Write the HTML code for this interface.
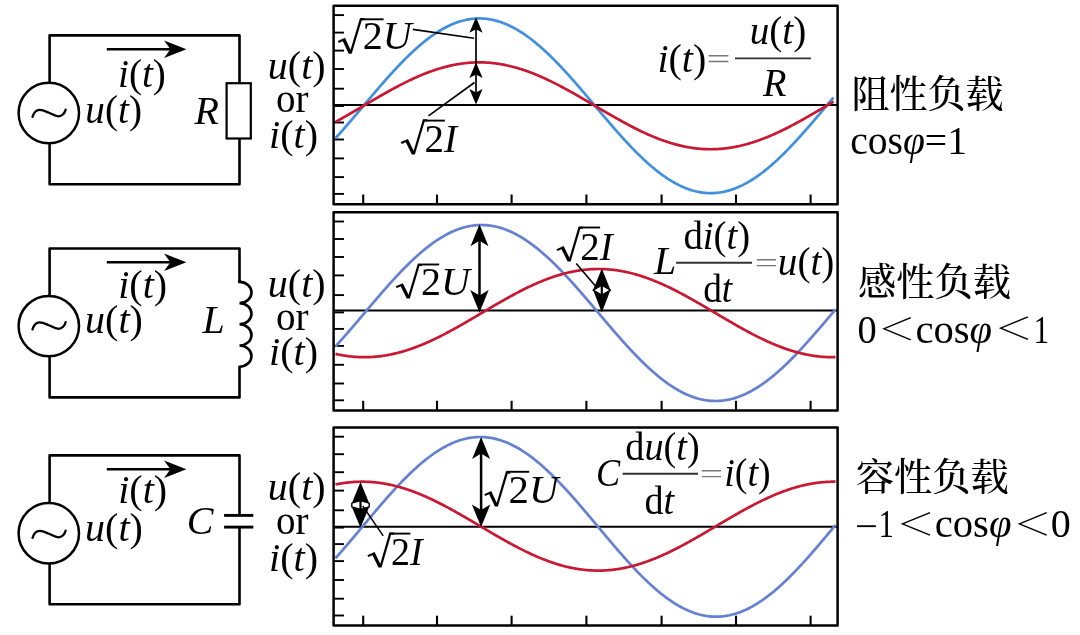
<!DOCTYPE html>
<html lang="zh"><head><meta charset="utf-8"><title>阻性、感性、容性负载</title>
<style>html,body{margin:0;padding:0;background:#fff;}svg{display:block;}</style></head>
<body><svg style="will-change:transform" width="1080" height="635" viewBox="0 0 1080 635">
<rect width="1080" height="635" fill="#fff"/>
<path d="M49.6,35.4 H239.5 V184.2 H49.6 Z" fill="none" stroke="#000" stroke-width="2.6" stroke-linejoin="round"/>
<circle cx="48.8" cy="113.0" r="30.2" fill="#fff" stroke="#000" stroke-width="2.5"/>
<path d="M32.50,116.80 C34.00,112.00 36.00,109.80 39.50,109.80 C43.00,109.80 46.00,111.50 49.00,112.80 C52.00,114.00 55.00,116.30 58.50,116.30 C62.00,116.30 65.00,113.00 65.70,109.60" fill="none" stroke="#000" stroke-width="2.3" stroke-linecap="round"/>
<line x1="106.8" y1="49.2" x2="171.4" y2="49.2" stroke="#000" stroke-width="2.4"/><path d="M186.4,49.2 L164.1,40.5 L170.4,49.2 L164.1,57.900000000000006 Z" fill="#000"/>
<rect x="226.6" y="83.19999999999999" width="24.2" height="55.3" fill="#fff" stroke="#000" stroke-width="2.2"/>
<path d="M49.6,248.5 H239.5 V397.4 H49.6 Z" fill="none" stroke="#000" stroke-width="2.6" stroke-linejoin="round"/>
<circle cx="48.8" cy="326.1" r="30.2" fill="#fff" stroke="#000" stroke-width="2.5"/>
<path d="M32.50,329.30 C34.00,324.50 36.00,322.30 39.50,322.30 C43.00,322.30 46.00,324.00 49.00,325.30 C52.00,326.50 55.00,328.80 58.50,328.80 C62.00,328.80 65.00,325.50 65.70,322.10" fill="none" stroke="#000" stroke-width="2.3" stroke-linecap="round"/>
<line x1="106.8" y1="262.3" x2="171.4" y2="262.3" stroke="#000" stroke-width="2.4"/><path d="M186.4,262.3 L164.1,253.60000000000002 L170.4,262.3 L164.1,271.0 Z" fill="#000"/>
<rect x="237.5" y="282.9" width="4" height="82.8" fill="#fff"/>
<path d="M239.5,279.9 L239.5,281.9 A12,10.6 0 0 1 239.5,303.09999999999997 A12,10.6 0 0 1 239.5,324.29999999999995 A12,10.6 0 0 1 239.5,345.5 A12,10.6 0 0 1 239.5,366.7" fill="none" stroke="#000" stroke-width="2.6"/>
<path d="M49.6,455.4 H239.5 V604.2 H49.6 Z" fill="none" stroke="#000" stroke-width="2.6" stroke-linejoin="round"/>
<circle cx="48.8" cy="533.2" r="30.2" fill="#fff" stroke="#000" stroke-width="2.5"/>
<path d="M32.50,537.80 C34.00,533.00 36.00,530.80 39.50,530.80 C43.00,530.80 46.00,532.50 49.00,533.80 C52.00,535.00 55.00,537.30 58.50,537.30 C62.00,537.30 65.00,534.00 65.70,530.60" fill="none" stroke="#000" stroke-width="2.3" stroke-linecap="round"/>
<line x1="106.8" y1="469.2" x2="171.4" y2="469.2" stroke="#000" stroke-width="2.4"/><path d="M186.4,469.2 L164.1,460.5 L170.4,469.2 L164.1,477.9 Z" fill="#000"/>
<rect x="236.5" y="515.4" width="6" height="11.700000000000045" fill="#fff"/>
<line x1="224.1" y1="515.4" x2="253.3" y2="515.4" stroke="#000" stroke-width="2.9"/>
<line x1="224.1" y1="527.1" x2="253.3" y2="527.1" stroke="#000" stroke-width="2.9"/>
<line x1="333.6" y1="15.10" x2="344" y2="15.10" stroke="#000" stroke-width="1.9"/>
<line x1="333.6" y1="32.60" x2="344" y2="32.60" stroke="#000" stroke-width="1.9"/>
<line x1="333.6" y1="50.60" x2="344" y2="50.60" stroke="#000" stroke-width="1.9"/>
<line x1="333.6" y1="69.00" x2="344" y2="69.00" stroke="#000" stroke-width="1.9"/>
<line x1="333.6" y1="88.70" x2="344" y2="88.70" stroke="#000" stroke-width="1.9"/>
<line x1="333.6" y1="106.00" x2="344" y2="106.00" stroke="#000" stroke-width="1.9"/>
<line x1="333.6" y1="122.50" x2="344" y2="122.50" stroke="#000" stroke-width="1.9"/>
<line x1="333.6" y1="139.50" x2="344" y2="139.50" stroke="#000" stroke-width="1.9"/>
<line x1="333.6" y1="158.40" x2="344" y2="158.40" stroke="#000" stroke-width="1.9"/>
<line x1="333.6" y1="177.10" x2="344" y2="177.10" stroke="#000" stroke-width="1.9"/>
<line x1="333.6" y1="193.90" x2="344" y2="193.90" stroke="#000" stroke-width="1.9"/>
<line x1="363.2" y1="204.3" x2="363.2" y2="194.50" stroke="#000" stroke-width="2.1"/>
<line x1="437.0" y1="204.3" x2="437.0" y2="194.50" stroke="#000" stroke-width="2.1"/>
<line x1="511.6" y1="204.3" x2="511.6" y2="194.50" stroke="#000" stroke-width="2.1"/>
<line x1="586.4" y1="204.3" x2="586.4" y2="194.50" stroke="#000" stroke-width="2.1"/>
<line x1="661.6" y1="204.3" x2="661.6" y2="194.50" stroke="#000" stroke-width="2.1"/>
<line x1="736.0" y1="204.3" x2="736.0" y2="194.50" stroke="#000" stroke-width="2.1"/>
<line x1="810.6" y1="204.3" x2="810.6" y2="194.50" stroke="#000" stroke-width="2.1"/>
<line x1="333.6" y1="104.9" x2="837.6" y2="104.9" stroke="#000" stroke-width="2.0"/>
<path d="M335.5,138.20 L336.5,137.09 L337.5,135.98 L338.5,134.87 L339.5,133.75 L340.5,132.62 L341.5,131.49 L342.5,130.36 L343.5,129.22 L344.5,128.07 L345.5,126.93 L346.5,125.77 L347.5,124.62 L348.5,123.46 L349.5,122.30 L350.5,121.13 L351.5,119.96 L352.5,118.79 L353.5,117.62 L354.5,116.44 L355.5,115.26 L356.5,114.09 L357.5,112.90 L358.5,111.72 L359.5,110.54 L360.5,109.36 L361.5,108.17 L362.5,106.99 L363.5,105.80 L364.5,104.61 L365.5,103.43 L366.5,102.24 L367.5,101.06 L368.5,99.88 L369.5,98.70 L370.5,97.51 L371.5,96.34 L372.5,95.16 L373.5,93.98 L374.5,92.81 L375.5,91.64 L376.5,90.47 L377.5,89.30 L378.5,88.14 L379.5,86.98 L380.5,85.83 L381.5,84.67 L382.5,83.53 L383.5,82.38 L384.5,81.24 L385.5,80.11 L386.5,78.98 L387.5,77.85 L388.5,76.73 L389.5,75.62 L390.5,74.51 L391.5,73.40 L392.5,72.30 L393.5,71.21 L394.5,70.13 L395.5,69.05 L396.5,67.98 L397.5,66.91 L398.5,65.85 L399.5,64.80 L400.5,63.76 L401.5,62.73 L402.5,61.70 L403.5,60.68 L404.5,59.67 L405.5,58.67 L406.5,57.67 L407.5,56.69 L408.5,55.71 L409.5,54.75 L410.5,53.79 L411.5,52.84 L412.5,51.90 L413.5,50.97 L414.5,50.06 L415.5,49.15 L416.5,48.25 L417.5,47.37 L418.5,46.49 L419.5,45.63 L420.5,44.77 L421.5,43.93 L422.5,43.10 L423.5,42.28 L424.5,41.47 L425.5,40.68 L426.5,39.89 L427.5,39.12 L428.5,38.36 L429.5,37.61 L430.5,36.88 L431.5,36.16 L432.5,35.45 L433.5,34.75 L434.5,34.07 L435.5,33.40 L436.5,32.74 L437.5,32.10 L438.5,31.47 L439.5,30.85 L440.5,30.25 L441.5,29.66 L442.5,29.09 L443.5,28.53 L444.5,27.98 L445.5,27.45 L446.5,26.94 L447.5,26.43 L448.5,25.95 L449.5,25.47 L450.5,25.01 L451.5,24.57 L452.5,24.14 L453.5,23.73 L454.5,23.33 L455.5,22.95 L456.5,22.58 L457.5,22.23 L458.5,21.89 L459.5,21.57 L460.5,21.26 L461.5,20.97 L462.5,20.70 L463.5,20.44 L464.5,20.19 L465.5,19.97 L466.5,19.75 L467.5,19.56 L468.5,19.38 L469.5,19.21 L470.5,19.07 L471.5,18.93 L472.5,18.82 L473.5,18.72 L474.5,18.63 L475.5,18.56 L476.5,18.51 L477.5,18.47 L478.5,18.45 L479.5,18.45 L480.5,18.46 L481.5,18.49 L482.5,18.53 L483.5,18.60 L484.5,18.67 L485.5,18.76 L486.5,18.87 L487.5,19.00 L488.5,19.14 L489.5,19.29 L490.5,19.47 L491.5,19.65 L492.5,19.86 L493.5,20.08 L494.5,20.31 L495.5,20.57 L496.5,20.83 L497.5,21.12 L498.5,21.41 L499.5,21.73 L500.5,22.06 L501.5,22.40 L502.5,22.76 L503.5,23.14 L504.5,23.53 L505.5,23.93 L506.5,24.35 L507.5,24.79 L508.5,25.24 L509.5,25.71 L510.5,26.19 L511.5,26.68 L512.5,27.19 L513.5,27.72 L514.5,28.26 L515.5,28.81 L516.5,29.37 L517.5,29.96 L518.5,30.55 L519.5,31.16 L520.5,31.78 L521.5,32.42 L522.5,33.07 L523.5,33.73 L524.5,34.41 L525.5,35.10 L526.5,35.80 L527.5,36.52 L528.5,37.24 L529.5,37.98 L530.5,38.74 L531.5,39.50 L532.5,40.28 L533.5,41.07 L534.5,41.87 L535.5,42.69 L536.5,43.51 L537.5,44.35 L538.5,45.20 L539.5,46.06 L540.5,46.93 L541.5,47.81 L542.5,48.70 L543.5,49.60 L544.5,50.51 L545.5,51.44 L546.5,52.37 L547.5,53.31 L548.5,54.27 L549.5,55.23 L550.5,56.20 L551.5,57.18 L552.5,58.17 L553.5,59.17 L554.5,60.17 L555.5,61.19 L556.5,62.21 L557.5,63.24 L558.5,64.28 L559.5,65.33 L560.5,66.38 L561.5,67.44 L562.5,68.51 L563.5,69.59 L564.5,70.67 L565.5,71.76 L566.5,72.85 L567.5,73.95 L568.5,75.06 L569.5,76.17 L570.5,77.29 L571.5,78.41 L572.5,79.54 L573.5,80.67 L574.5,81.81 L575.5,82.95 L576.5,84.10 L577.5,85.25 L578.5,86.40 L579.5,87.56 L580.5,88.72 L581.5,89.89 L582.5,91.05 L583.5,92.22 L584.5,93.40 L585.5,94.57 L586.5,95.75 L587.5,96.92 L588.5,98.10 L589.5,99.29 L590.5,100.47 L591.5,101.65 L592.5,102.84 L593.5,104.02 L594.5,105.21 L595.5,106.39 L596.5,107.58 L597.5,108.76 L598.5,109.95 L599.5,111.13 L600.5,112.31 L601.5,113.50 L602.5,114.68 L603.5,115.85 L604.5,117.03 L605.5,118.20 L606.5,119.38 L607.5,120.55 L608.5,121.71 L609.5,122.88 L610.5,124.04 L611.5,125.20 L612.5,126.35 L613.5,127.50 L614.5,128.65 L615.5,129.79 L616.5,130.93 L617.5,132.06 L618.5,133.19 L619.5,134.31 L620.5,135.43 L621.5,136.54 L622.5,137.65 L623.5,138.75 L624.5,139.84 L625.5,140.93 L626.5,142.01 L627.5,143.09 L628.5,144.16 L629.5,145.22 L630.5,146.27 L631.5,147.32 L632.5,148.36 L633.5,149.39 L634.5,150.41 L635.5,151.43 L636.5,152.43 L637.5,153.43 L638.5,154.42 L639.5,155.40 L640.5,156.37 L641.5,157.33 L642.5,158.29 L643.5,159.23 L644.5,160.16 L645.5,161.09 L646.5,162.00 L647.5,162.90 L648.5,163.79 L649.5,164.67 L650.5,165.54 L651.5,166.40 L652.5,167.25 L653.5,168.09 L654.5,168.91 L655.5,169.73 L656.5,170.53 L657.5,171.32 L658.5,172.10 L659.5,172.86 L660.5,173.62 L661.5,174.36 L662.5,175.08 L663.5,175.80 L664.5,176.50 L665.5,177.19 L666.5,177.87 L667.5,178.53 L668.5,179.18 L669.5,179.82 L670.5,180.44 L671.5,181.05 L672.5,181.64 L673.5,182.23 L674.5,182.79 L675.5,183.34 L676.5,183.88 L677.5,184.41 L678.5,184.92 L679.5,185.41 L680.5,185.89 L681.5,186.36 L682.5,186.81 L683.5,187.25 L684.5,187.67 L685.5,188.07 L686.5,188.46 L687.5,188.84 L688.5,189.20 L689.5,189.54 L690.5,189.87 L691.5,190.19 L692.5,190.48 L693.5,190.77 L694.5,191.03 L695.5,191.29 L696.5,191.52 L697.5,191.74 L698.5,191.95 L699.5,192.13 L700.5,192.31 L701.5,192.46 L702.5,192.60 L703.5,192.73 L704.5,192.84 L705.5,192.93 L706.5,193.00 L707.5,193.07 L708.5,193.11 L709.5,193.14 L710.5,193.15 L711.5,193.15 L712.5,193.13 L713.5,193.09 L714.5,193.04 L715.5,192.97 L716.5,192.88 L717.5,192.78 L718.5,192.67 L719.5,192.53 L720.5,192.39 L721.5,192.22 L722.5,192.04 L723.5,191.85 L724.5,191.63 L725.5,191.41 L726.5,191.16 L727.5,190.90 L728.5,190.63 L729.5,190.34 L730.5,190.03 L731.5,189.71 L732.5,189.37 L733.5,189.02 L734.5,188.65 L735.5,188.27 L736.5,187.87 L737.5,187.46 L738.5,187.03 L739.5,186.59 L740.5,186.13 L741.5,185.65 L742.5,185.17 L743.5,184.66 L744.5,184.15 L745.5,183.62 L746.5,183.07 L747.5,182.51 L748.5,181.94 L749.5,181.35 L750.5,180.75 L751.5,180.13 L752.5,179.50 L753.5,178.86 L754.5,178.20 L755.5,177.53 L756.5,176.85 L757.5,176.15 L758.5,175.44 L759.5,174.72 L760.5,173.99 L761.5,173.24 L762.5,172.48 L763.5,171.71 L764.5,170.92 L765.5,170.13 L766.5,169.32 L767.5,168.50 L768.5,167.67 L769.5,166.83 L770.5,165.97 L771.5,165.11 L772.5,164.23 L773.5,163.35 L774.5,162.45 L775.5,161.54 L776.5,160.63 L777.5,159.70 L778.5,158.76 L779.5,157.81 L780.5,156.85 L781.5,155.89 L782.5,154.91 L783.5,153.93 L784.5,152.93 L785.5,151.93 L786.5,150.92 L787.5,149.90 L788.5,148.87 L789.5,147.84 L790.5,146.80 L791.5,145.75 L792.5,144.69 L793.5,143.62 L794.5,142.55 L795.5,141.47 L796.5,140.39 L797.5,139.30 L798.5,138.20 L799.5,137.09 L800.5,135.98 L801.5,134.87 L802.5,133.75 L803.5,132.62 L804.5,131.49 L805.5,130.36 L806.5,129.22 L807.5,128.07 L808.5,126.93 L809.5,125.77 L810.5,124.62 L811.5,123.46 L812.5,122.30 L813.5,121.13 L814.5,119.96 L815.5,118.79 L816.5,117.62 L817.5,116.44 L818.5,115.26 L819.5,114.09 L820.5,112.90 L821.5,111.72 L822.5,110.54 L823.5,109.36 L824.5,108.17 L825.5,106.99 L826.5,105.80 L827.5,104.61 L828.5,103.43 L829.5,102.24 L830.5,101.06 L831.5,99.88 L832.5,98.70 L833.5,97.51" fill="none" stroke="#428fe0" stroke-width="2.7"/>
<path d="M335.5,121.92 L336.5,121.37 L337.5,120.81 L338.5,120.26 L339.5,119.70 L340.5,119.14 L341.5,118.58 L342.5,118.02 L343.5,117.45 L344.5,116.88 L345.5,116.31 L346.5,115.74 L347.5,115.16 L348.5,114.58 L349.5,114.01 L350.5,113.43 L351.5,112.84 L352.5,112.26 L353.5,111.68 L354.5,111.09 L355.5,110.51 L356.5,109.92 L357.5,109.33 L358.5,108.75 L359.5,108.16 L360.5,107.57 L361.5,106.98 L362.5,106.39 L363.5,105.80 L364.5,105.21 L365.5,104.62 L366.5,104.03 L367.5,103.44 L368.5,102.85 L369.5,102.27 L370.5,101.68 L371.5,101.09 L372.5,100.51 L373.5,99.92 L374.5,99.34 L375.5,98.76 L376.5,98.17 L377.5,97.59 L378.5,97.02 L379.5,96.44 L380.5,95.86 L381.5,95.29 L382.5,94.72 L383.5,94.15 L384.5,93.58 L385.5,93.02 L386.5,92.46 L387.5,91.90 L388.5,91.34 L389.5,90.79 L390.5,90.23 L391.5,89.68 L392.5,89.14 L393.5,88.60 L394.5,88.06 L395.5,87.52 L396.5,86.99 L397.5,86.46 L398.5,85.93 L399.5,85.41 L400.5,84.89 L401.5,84.37 L402.5,83.86 L403.5,83.36 L404.5,82.85 L405.5,82.35 L406.5,81.86 L407.5,81.37 L408.5,80.88 L409.5,80.40 L410.5,79.93 L411.5,79.46 L412.5,78.99 L413.5,78.53 L414.5,78.07 L415.5,77.62 L416.5,77.17 L417.5,76.73 L418.5,76.30 L419.5,75.87 L420.5,75.44 L421.5,75.02 L422.5,74.61 L423.5,74.20 L424.5,73.80 L425.5,73.41 L426.5,73.02 L427.5,72.63 L428.5,72.25 L429.5,71.88 L430.5,71.52 L431.5,71.16 L432.5,70.80 L433.5,70.46 L434.5,70.12 L435.5,69.79 L436.5,69.46 L437.5,69.14 L438.5,68.83 L439.5,68.52 L440.5,68.22 L441.5,67.93 L442.5,67.64 L443.5,67.36 L444.5,67.09 L445.5,66.83 L446.5,66.57 L447.5,66.32 L448.5,66.08 L449.5,65.84 L450.5,65.62 L451.5,65.39 L452.5,65.18 L453.5,64.98 L454.5,64.78 L455.5,64.59 L456.5,64.40 L457.5,64.23 L458.5,64.06 L459.5,63.90 L460.5,63.75 L461.5,63.60 L462.5,63.47 L463.5,63.34 L464.5,63.22 L465.5,63.10 L466.5,63.00 L467.5,62.90 L468.5,62.81 L469.5,62.73 L470.5,62.66 L471.5,62.59 L472.5,62.53 L473.5,62.48 L474.5,62.44 L475.5,62.41 L476.5,62.38 L477.5,62.36 L478.5,62.35 L479.5,62.35 L480.5,62.36 L481.5,62.37 L482.5,62.39 L483.5,62.42 L484.5,62.46 L485.5,62.51 L486.5,62.56 L487.5,62.62 L488.5,62.69 L489.5,62.77 L490.5,62.86 L491.5,62.95 L492.5,63.05 L493.5,63.16 L494.5,63.28 L495.5,63.40 L496.5,63.54 L497.5,63.68 L498.5,63.82 L499.5,63.98 L500.5,64.14 L501.5,64.32 L502.5,64.49 L503.5,64.68 L504.5,64.88 L505.5,65.08 L506.5,65.29 L507.5,65.50 L508.5,65.73 L509.5,65.96 L510.5,66.20 L511.5,66.45 L512.5,66.70 L513.5,66.96 L514.5,67.23 L515.5,67.50 L516.5,67.78 L517.5,68.07 L518.5,68.37 L519.5,68.67 L520.5,68.98 L521.5,69.30 L522.5,69.62 L523.5,69.95 L524.5,70.29 L525.5,70.63 L526.5,70.98 L527.5,71.34 L528.5,71.70 L529.5,72.07 L530.5,72.44 L531.5,72.82 L532.5,73.21 L533.5,73.60 L534.5,74.00 L535.5,74.41 L536.5,74.82 L537.5,75.23 L538.5,75.65 L539.5,76.08 L540.5,76.52 L541.5,76.95 L542.5,77.40 L543.5,77.85 L544.5,78.30 L545.5,78.76 L546.5,79.22 L547.5,79.69 L548.5,80.17 L549.5,80.64 L550.5,81.13 L551.5,81.61 L552.5,82.11 L553.5,82.60 L554.5,83.10 L555.5,83.61 L556.5,84.12 L557.5,84.63 L558.5,85.15 L559.5,85.67 L560.5,86.19 L561.5,86.72 L562.5,87.25 L563.5,87.79 L564.5,88.33 L565.5,88.87 L566.5,89.41 L567.5,89.96 L568.5,90.51 L569.5,91.06 L570.5,91.62 L571.5,92.18 L572.5,92.74 L573.5,93.30 L574.5,93.87 L575.5,94.44 L576.5,95.01 L577.5,95.58 L578.5,96.15 L579.5,96.73 L580.5,97.31 L581.5,97.88 L582.5,98.46 L583.5,99.05 L584.5,99.63 L585.5,100.21 L586.5,100.80 L587.5,101.39 L588.5,101.97 L589.5,102.56 L590.5,103.15 L591.5,103.74 L592.5,104.33 L593.5,104.92 L594.5,105.51 L595.5,106.09 L596.5,106.68 L597.5,107.27 L598.5,107.86 L599.5,108.45 L600.5,109.04 L601.5,109.63 L602.5,110.21 L603.5,110.80 L604.5,111.39 L605.5,111.97 L606.5,112.55 L607.5,113.14 L608.5,113.72 L609.5,114.29 L610.5,114.87 L611.5,115.45 L612.5,116.02 L613.5,116.59 L614.5,117.16 L615.5,117.73 L616.5,118.30 L617.5,118.86 L618.5,119.42 L619.5,119.98 L620.5,120.54 L621.5,121.09 L622.5,121.64 L623.5,122.19 L624.5,122.73 L625.5,123.27 L626.5,123.81 L627.5,124.35 L628.5,124.88 L629.5,125.41 L630.5,125.93 L631.5,126.45 L632.5,126.97 L633.5,127.48 L634.5,127.99 L635.5,128.50 L636.5,129.00 L637.5,129.49 L638.5,129.99 L639.5,130.47 L640.5,130.96 L641.5,131.43 L642.5,131.91 L643.5,132.38 L644.5,132.84 L645.5,133.30 L646.5,133.75 L647.5,134.20 L648.5,134.65 L649.5,135.08 L650.5,135.52 L651.5,135.95 L652.5,136.37 L653.5,136.78 L654.5,137.19 L655.5,137.60 L656.5,138.00 L657.5,138.39 L658.5,138.78 L659.5,139.16 L660.5,139.53 L661.5,139.90 L662.5,140.26 L663.5,140.62 L664.5,140.97 L665.5,141.31 L666.5,141.65 L667.5,141.98 L668.5,142.30 L669.5,142.62 L670.5,142.93 L671.5,143.23 L672.5,143.53 L673.5,143.82 L674.5,144.10 L675.5,144.37 L676.5,144.64 L677.5,144.90 L678.5,145.15 L679.5,145.40 L680.5,145.64 L681.5,145.87 L682.5,146.10 L683.5,146.31 L684.5,146.52 L685.5,146.72 L686.5,146.92 L687.5,147.11 L688.5,147.28 L689.5,147.46 L690.5,147.62 L691.5,147.78 L692.5,147.92 L693.5,148.06 L694.5,148.20 L695.5,148.32 L696.5,148.44 L697.5,148.55 L698.5,148.65 L699.5,148.74 L700.5,148.83 L701.5,148.91 L702.5,148.98 L703.5,149.04 L704.5,149.09 L705.5,149.14 L706.5,149.18 L707.5,149.21 L708.5,149.23 L709.5,149.24 L710.5,149.25 L711.5,149.25 L712.5,149.24 L713.5,149.22 L714.5,149.19 L715.5,149.16 L716.5,149.12 L717.5,149.07 L718.5,149.01 L719.5,148.94 L720.5,148.87 L721.5,148.79 L722.5,148.70 L723.5,148.60 L724.5,148.50 L725.5,148.38 L726.5,148.26 L727.5,148.13 L728.5,148.00 L729.5,147.85 L730.5,147.70 L731.5,147.54 L732.5,147.37 L733.5,147.20 L734.5,147.01 L735.5,146.82 L736.5,146.62 L737.5,146.42 L738.5,146.21 L739.5,145.98 L740.5,145.76 L741.5,145.52 L742.5,145.28 L743.5,145.03 L744.5,144.77 L745.5,144.51 L746.5,144.24 L747.5,143.96 L748.5,143.67 L749.5,143.38 L750.5,143.08 L751.5,142.77 L752.5,142.46 L753.5,142.14 L754.5,141.81 L755.5,141.48 L756.5,141.14 L757.5,140.80 L758.5,140.44 L759.5,140.08 L760.5,139.72 L761.5,139.35 L762.5,138.97 L763.5,138.58 L764.5,138.19 L765.5,137.80 L766.5,137.40 L767.5,136.99 L768.5,136.58 L769.5,136.16 L770.5,135.73 L771.5,135.30 L772.5,134.87 L773.5,134.43 L774.5,133.98 L775.5,133.53 L776.5,133.07 L777.5,132.61 L778.5,132.14 L779.5,131.67 L780.5,131.20 L781.5,130.72 L782.5,130.23 L783.5,129.74 L784.5,129.25 L785.5,128.75 L786.5,128.24 L787.5,127.74 L788.5,127.23 L789.5,126.71 L790.5,126.19 L791.5,125.67 L792.5,125.14 L793.5,124.61 L794.5,124.08 L795.5,123.54 L796.5,123.00 L797.5,122.46 L798.5,121.92 L799.5,121.37 L800.5,120.81 L801.5,120.26 L802.5,119.70 L803.5,119.14 L804.5,118.58 L805.5,118.02 L806.5,117.45 L807.5,116.88 L808.5,116.31 L809.5,115.74 L810.5,115.16 L811.5,114.58 L812.5,114.01 L813.5,113.43 L814.5,112.84 L815.5,112.26 L816.5,111.68 L817.5,111.09 L818.5,110.51 L819.5,109.92 L820.5,109.33 L821.5,108.75 L822.5,108.16 L823.5,107.57 L824.5,106.98 L825.5,106.39 L826.5,105.80 L827.5,105.21 L828.5,104.62 L829.5,104.03 L830.5,103.44 L831.5,102.85 L832.5,102.27 L833.5,101.68" fill="none" stroke="#c81832" stroke-width="2.7"/>
<rect x="333.6" y="5.8" width="504.0" height="198.5" fill="none" stroke="#000" stroke-width="2.5" stroke-linejoin="round"/>
<line x1="333.6" y1="221.50" x2="344" y2="221.50" stroke="#000" stroke-width="1.9"/>
<line x1="333.6" y1="239.00" x2="344" y2="239.00" stroke="#000" stroke-width="1.9"/>
<line x1="333.6" y1="257.00" x2="344" y2="257.00" stroke="#000" stroke-width="1.9"/>
<line x1="333.6" y1="275.40" x2="344" y2="275.40" stroke="#000" stroke-width="1.9"/>
<line x1="333.6" y1="295.10" x2="344" y2="295.10" stroke="#000" stroke-width="1.9"/>
<line x1="333.6" y1="312.40" x2="344" y2="312.40" stroke="#000" stroke-width="1.9"/>
<line x1="333.6" y1="328.90" x2="344" y2="328.90" stroke="#000" stroke-width="1.9"/>
<line x1="333.6" y1="345.90" x2="344" y2="345.90" stroke="#000" stroke-width="1.9"/>
<line x1="333.6" y1="364.80" x2="344" y2="364.80" stroke="#000" stroke-width="1.9"/>
<line x1="333.6" y1="383.50" x2="344" y2="383.50" stroke="#000" stroke-width="1.9"/>
<line x1="333.6" y1="400.30" x2="344" y2="400.30" stroke="#000" stroke-width="1.9"/>
<line x1="363.2" y1="410.6" x2="363.2" y2="400.80" stroke="#000" stroke-width="2.1"/>
<line x1="437.0" y1="410.6" x2="437.0" y2="400.80" stroke="#000" stroke-width="2.1"/>
<line x1="511.6" y1="410.6" x2="511.6" y2="400.80" stroke="#000" stroke-width="2.1"/>
<line x1="586.4" y1="410.6" x2="586.4" y2="400.80" stroke="#000" stroke-width="2.1"/>
<line x1="661.6" y1="410.6" x2="661.6" y2="400.80" stroke="#000" stroke-width="2.1"/>
<line x1="736.0" y1="410.6" x2="736.0" y2="400.80" stroke="#000" stroke-width="2.1"/>
<line x1="810.6" y1="410.6" x2="810.6" y2="400.80" stroke="#000" stroke-width="2.1"/>
<line x1="333.6" y1="310.5" x2="837.6" y2="310.5" stroke="#000" stroke-width="2.0"/>
<path d="M335.5,346.40 L336.5,345.31 L337.5,344.21 L338.5,343.10 L339.5,341.98 L340.5,340.87 L341.5,339.74 L342.5,338.62 L343.5,337.48 L344.5,336.35 L345.5,335.20 L346.5,334.06 L347.5,332.91 L348.5,331.76 L349.5,330.60 L350.5,329.44 L351.5,328.28 L352.5,327.12 L353.5,325.95 L354.5,324.78 L355.5,323.61 L356.5,322.43 L357.5,321.26 L358.5,320.08 L359.5,318.90 L360.5,317.72 L361.5,316.54 L362.5,315.36 L363.5,314.18 L364.5,313.00 L365.5,311.82 L366.5,310.64 L367.5,309.46 L368.5,308.28 L369.5,307.10 L370.5,305.92 L371.5,304.74 L372.5,303.57 L373.5,302.39 L374.5,301.22 L375.5,300.05 L376.5,298.88 L377.5,297.72 L378.5,296.56 L379.5,295.40 L380.5,294.24 L381.5,293.09 L382.5,291.94 L383.5,290.80 L384.5,289.65 L385.5,288.52 L386.5,287.38 L387.5,286.26 L388.5,285.13 L389.5,284.02 L390.5,282.90 L391.5,281.79 L392.5,280.69 L393.5,279.60 L394.5,278.51 L395.5,277.42 L396.5,276.35 L397.5,275.28 L398.5,274.21 L399.5,273.15 L400.5,272.10 L401.5,271.06 L402.5,270.03 L403.5,269.00 L404.5,267.98 L405.5,266.97 L406.5,265.97 L407.5,264.97 L408.5,263.99 L409.5,263.01 L410.5,262.04 L411.5,261.08 L412.5,260.13 L413.5,259.19 L414.5,258.26 L415.5,257.34 L416.5,256.43 L417.5,255.53 L418.5,254.65 L419.5,253.77 L420.5,252.90 L421.5,252.04 L422.5,251.19 L423.5,250.36 L424.5,249.53 L425.5,248.72 L426.5,247.92 L427.5,247.13 L428.5,246.35 L429.5,245.59 L430.5,244.83 L431.5,244.09 L432.5,243.37 L433.5,242.65 L434.5,241.95 L435.5,241.26 L436.5,240.58 L437.5,239.91 L438.5,239.26 L439.5,238.62 L440.5,238.00 L441.5,237.39 L442.5,236.79 L443.5,236.21 L444.5,235.64 L445.5,235.08 L446.5,234.54 L447.5,234.01 L448.5,233.50 L449.5,233.00 L450.5,232.51 L451.5,232.04 L452.5,231.59 L453.5,231.14 L454.5,230.72 L455.5,230.31 L456.5,229.91 L457.5,229.53 L458.5,229.16 L459.5,228.81 L460.5,228.47 L461.5,228.15 L462.5,227.85 L463.5,227.56 L464.5,227.28 L465.5,227.02 L466.5,226.78 L467.5,226.55 L468.5,226.34 L469.5,226.14 L470.5,225.96 L471.5,225.79 L472.5,225.64 L473.5,225.51 L474.5,225.39 L475.5,225.29 L476.5,225.20 L477.5,225.13 L478.5,225.07 L479.5,225.03 L480.5,225.01 L481.5,225.00 L482.5,225.01 L483.5,225.03 L484.5,225.07 L485.5,225.13 L486.5,225.20 L487.5,225.29 L488.5,225.39 L489.5,225.51 L490.5,225.64 L491.5,225.79 L492.5,225.96 L493.5,226.14 L494.5,226.34 L495.5,226.55 L496.5,226.78 L497.5,227.02 L498.5,227.28 L499.5,227.56 L500.5,227.85 L501.5,228.15 L502.5,228.47 L503.5,228.81 L504.5,229.16 L505.5,229.53 L506.5,229.91 L507.5,230.31 L508.5,230.72 L509.5,231.14 L510.5,231.59 L511.5,232.04 L512.5,232.51 L513.5,233.00 L514.5,233.50 L515.5,234.01 L516.5,234.54 L517.5,235.08 L518.5,235.64 L519.5,236.21 L520.5,236.79 L521.5,237.39 L522.5,238.00 L523.5,238.62 L524.5,239.26 L525.5,239.91 L526.5,240.58 L527.5,241.26 L528.5,241.95 L529.5,242.65 L530.5,243.37 L531.5,244.09 L532.5,244.83 L533.5,245.59 L534.5,246.35 L535.5,247.13 L536.5,247.92 L537.5,248.72 L538.5,249.53 L539.5,250.36 L540.5,251.19 L541.5,252.04 L542.5,252.90 L543.5,253.77 L544.5,254.65 L545.5,255.53 L546.5,256.43 L547.5,257.34 L548.5,258.26 L549.5,259.19 L550.5,260.13 L551.5,261.08 L552.5,262.04 L553.5,263.01 L554.5,263.99 L555.5,264.97 L556.5,265.97 L557.5,266.97 L558.5,267.98 L559.5,269.00 L560.5,270.03 L561.5,271.06 L562.5,272.10 L563.5,273.15 L564.5,274.21 L565.5,275.28 L566.5,276.35 L567.5,277.42 L568.5,278.51 L569.5,279.60 L570.5,280.69 L571.5,281.79 L572.5,282.90 L573.5,284.02 L574.5,285.13 L575.5,286.26 L576.5,287.38 L577.5,288.52 L578.5,289.65 L579.5,290.80 L580.5,291.94 L581.5,293.09 L582.5,294.24 L583.5,295.40 L584.5,296.56 L585.5,297.72 L586.5,298.88 L587.5,300.05 L588.5,301.22 L589.5,302.39 L590.5,303.57 L591.5,304.74 L592.5,305.92 L593.5,307.10 L594.5,308.28 L595.5,309.46 L596.5,310.64 L597.5,311.82 L598.5,313.00 L599.5,314.18 L600.5,315.36 L601.5,316.54 L602.5,317.72 L603.5,318.90 L604.5,320.08 L605.5,321.26 L606.5,322.43 L607.5,323.61 L608.5,324.78 L609.5,325.95 L610.5,327.12 L611.5,328.28 L612.5,329.44 L613.5,330.60 L614.5,331.76 L615.5,332.91 L616.5,334.06 L617.5,335.20 L618.5,336.35 L619.5,337.48 L620.5,338.62 L621.5,339.74 L622.5,340.87 L623.5,341.98 L624.5,343.10 L625.5,344.21 L626.5,345.31 L627.5,346.40 L628.5,347.49 L629.5,348.58 L630.5,349.65 L631.5,350.72 L632.5,351.79 L633.5,352.85 L634.5,353.90 L635.5,354.94 L636.5,355.97 L637.5,357.00 L638.5,358.02 L639.5,359.03 L640.5,360.03 L641.5,361.03 L642.5,362.01 L643.5,362.99 L644.5,363.96 L645.5,364.92 L646.5,365.87 L647.5,366.81 L648.5,367.74 L649.5,368.66 L650.5,369.57 L651.5,370.47 L652.5,371.35 L653.5,372.23 L654.5,373.10 L655.5,373.96 L656.5,374.81 L657.5,375.64 L658.5,376.47 L659.5,377.28 L660.5,378.08 L661.5,378.87 L662.5,379.65 L663.5,380.41 L664.5,381.17 L665.5,381.91 L666.5,382.63 L667.5,383.35 L668.5,384.05 L669.5,384.74 L670.5,385.42 L671.5,386.09 L672.5,386.74 L673.5,387.38 L674.5,388.00 L675.5,388.61 L676.5,389.21 L677.5,389.79 L678.5,390.36 L679.5,390.92 L680.5,391.46 L681.5,391.99 L682.5,392.50 L683.5,393.00 L684.5,393.49 L685.5,393.96 L686.5,394.41 L687.5,394.86 L688.5,395.28 L689.5,395.69 L690.5,396.09 L691.5,396.47 L692.5,396.84 L693.5,397.19 L694.5,397.53 L695.5,397.85 L696.5,398.15 L697.5,398.44 L698.5,398.72 L699.5,398.98 L700.5,399.22 L701.5,399.45 L702.5,399.66 L703.5,399.86 L704.5,400.04 L705.5,400.21 L706.5,400.36 L707.5,400.49 L708.5,400.61 L709.5,400.71 L710.5,400.80 L711.5,400.87 L712.5,400.93 L713.5,400.97 L714.5,400.99 L715.5,401.00 L716.5,400.99 L717.5,400.97 L718.5,400.93 L719.5,400.87 L720.5,400.80 L721.5,400.71 L722.5,400.61 L723.5,400.49 L724.5,400.36 L725.5,400.21 L726.5,400.04 L727.5,399.86 L728.5,399.66 L729.5,399.45 L730.5,399.22 L731.5,398.98 L732.5,398.72 L733.5,398.44 L734.5,398.15 L735.5,397.85 L736.5,397.53 L737.5,397.19 L738.5,396.84 L739.5,396.47 L740.5,396.09 L741.5,395.69 L742.5,395.28 L743.5,394.86 L744.5,394.41 L745.5,393.96 L746.5,393.49 L747.5,393.00 L748.5,392.50 L749.5,391.99 L750.5,391.46 L751.5,390.92 L752.5,390.36 L753.5,389.79 L754.5,389.21 L755.5,388.61 L756.5,388.00 L757.5,387.38 L758.5,386.74 L759.5,386.09 L760.5,385.42 L761.5,384.74 L762.5,384.05 L763.5,383.35 L764.5,382.63 L765.5,381.91 L766.5,381.17 L767.5,380.41 L768.5,379.65 L769.5,378.87 L770.5,378.08 L771.5,377.28 L772.5,376.47 L773.5,375.64 L774.5,374.81 L775.5,373.96 L776.5,373.10 L777.5,372.23 L778.5,371.35 L779.5,370.47 L780.5,369.57 L781.5,368.66 L782.5,367.74 L783.5,366.81 L784.5,365.87 L785.5,364.92 L786.5,363.96 L787.5,362.99 L788.5,362.01 L789.5,361.03 L790.5,360.03 L791.5,359.03 L792.5,358.02 L793.5,357.00 L794.5,355.97 L795.5,354.94 L796.5,353.90 L797.5,352.85 L798.5,351.79 L799.5,350.72 L800.5,349.65 L801.5,348.58 L802.5,347.49 L803.5,346.40 L804.5,345.31 L805.5,344.21 L806.5,343.10 L807.5,341.98 L808.5,340.87 L809.5,339.74 L810.5,338.62 L811.5,337.48 L812.5,336.35 L813.5,335.20 L814.5,334.06 L815.5,332.91 L816.5,331.76 L817.5,330.60 L818.5,329.44 L819.5,328.28 L820.5,327.12 L821.5,325.95 L822.5,324.78 L823.5,323.61 L824.5,322.43 L825.5,321.26 L826.5,320.08 L827.5,318.90 L828.5,317.72 L829.5,316.54 L830.5,315.36 L831.5,314.18 L832.5,313.00 L833.5,311.82 L834.5,310.64 L835.5,309.46" fill="none" stroke="#6681d2" stroke-width="2.7"/>
<path d="M335.5,353.90 L336.5,354.12 L337.5,354.33 L338.5,354.54 L339.5,354.74 L340.5,354.93 L341.5,355.11 L342.5,355.29 L343.5,355.46 L344.5,355.62 L345.5,355.77 L346.5,355.92 L347.5,356.06 L348.5,356.19 L349.5,356.31 L350.5,356.42 L351.5,356.53 L352.5,356.63 L353.5,356.72 L354.5,356.80 L355.5,356.88 L356.5,356.95 L357.5,357.01 L358.5,357.06 L359.5,357.10 L360.5,357.14 L361.5,357.16 L362.5,357.18 L363.5,357.20 L364.5,357.20 L365.5,357.20 L366.5,357.18 L367.5,357.16 L368.5,357.14 L369.5,357.10 L370.5,357.06 L371.5,357.01 L372.5,356.95 L373.5,356.88 L374.5,356.80 L375.5,356.72 L376.5,356.63 L377.5,356.53 L378.5,356.42 L379.5,356.31 L380.5,356.19 L381.5,356.06 L382.5,355.92 L383.5,355.77 L384.5,355.62 L385.5,355.46 L386.5,355.29 L387.5,355.11 L388.5,354.93 L389.5,354.74 L390.5,354.54 L391.5,354.33 L392.5,354.12 L393.5,353.90 L394.5,353.67 L395.5,353.44 L396.5,353.19 L397.5,352.94 L398.5,352.68 L399.5,352.42 L400.5,352.15 L401.5,351.87 L402.5,351.58 L403.5,351.29 L404.5,350.99 L405.5,350.69 L406.5,350.37 L407.5,350.05 L408.5,349.73 L409.5,349.39 L410.5,349.05 L411.5,348.71 L412.5,348.36 L413.5,348.00 L414.5,347.63 L415.5,347.26 L416.5,346.88 L417.5,346.50 L418.5,346.11 L419.5,345.71 L420.5,345.31 L421.5,344.91 L422.5,344.49 L423.5,344.07 L424.5,343.65 L425.5,343.22 L426.5,342.78 L427.5,342.34 L428.5,341.90 L429.5,341.45 L430.5,340.99 L431.5,340.53 L432.5,340.06 L433.5,339.59 L434.5,339.12 L435.5,338.64 L436.5,338.15 L437.5,337.66 L438.5,337.17 L439.5,336.67 L440.5,336.17 L441.5,335.66 L442.5,335.15 L443.5,334.64 L444.5,334.12 L445.5,333.59 L446.5,333.07 L447.5,332.54 L448.5,332.01 L449.5,331.47 L450.5,330.93 L451.5,330.39 L452.5,329.84 L453.5,329.29 L454.5,328.74 L455.5,328.18 L456.5,327.63 L457.5,327.07 L458.5,326.50 L459.5,325.94 L460.5,325.37 L461.5,324.80 L462.5,324.23 L463.5,323.65 L464.5,323.08 L465.5,322.50 L466.5,321.92 L467.5,321.34 L468.5,320.76 L469.5,320.17 L470.5,319.59 L471.5,319.00 L472.5,318.42 L473.5,317.83 L474.5,317.24 L475.5,316.65 L476.5,316.06 L477.5,315.47 L478.5,314.88 L479.5,314.28 L480.5,313.69 L481.5,313.10 L482.5,312.51 L483.5,311.92 L484.5,311.32 L485.5,310.73 L486.5,310.14 L487.5,309.55 L488.5,308.96 L489.5,308.37 L490.5,307.78 L491.5,307.20 L492.5,306.61 L493.5,306.03 L494.5,305.44 L495.5,304.86 L496.5,304.28 L497.5,303.70 L498.5,303.12 L499.5,302.55 L500.5,301.97 L501.5,301.40 L502.5,300.83 L503.5,300.26 L504.5,299.70 L505.5,299.13 L506.5,298.57 L507.5,298.02 L508.5,297.46 L509.5,296.91 L510.5,296.36 L511.5,295.81 L512.5,295.27 L513.5,294.73 L514.5,294.19 L515.5,293.66 L516.5,293.13 L517.5,292.61 L518.5,292.08 L519.5,291.56 L520.5,291.05 L521.5,290.54 L522.5,290.03 L523.5,289.53 L524.5,289.03 L525.5,288.54 L526.5,288.05 L527.5,287.56 L528.5,287.08 L529.5,286.61 L530.5,286.14 L531.5,285.67 L532.5,285.21 L533.5,284.75 L534.5,284.30 L535.5,283.86 L536.5,283.42 L537.5,282.98 L538.5,282.55 L539.5,282.13 L540.5,281.71 L541.5,281.29 L542.5,280.89 L543.5,280.49 L544.5,280.09 L545.5,279.70 L546.5,279.32 L547.5,278.94 L548.5,278.57 L549.5,278.20 L550.5,277.84 L551.5,277.49 L552.5,277.15 L553.5,276.81 L554.5,276.47 L555.5,276.15 L556.5,275.83 L557.5,275.51 L558.5,275.21 L559.5,274.91 L560.5,274.62 L561.5,274.33 L562.5,274.05 L563.5,273.78 L564.5,273.52 L565.5,273.26 L566.5,273.01 L567.5,272.76 L568.5,272.53 L569.5,272.30 L570.5,272.08 L571.5,271.87 L572.5,271.66 L573.5,271.46 L574.5,271.27 L575.5,271.09 L576.5,270.91 L577.5,270.74 L578.5,270.58 L579.5,270.43 L580.5,270.28 L581.5,270.14 L582.5,270.01 L583.5,269.89 L584.5,269.78 L585.5,269.67 L586.5,269.57 L587.5,269.48 L588.5,269.40 L589.5,269.32 L590.5,269.25 L591.5,269.19 L592.5,269.14 L593.5,269.10 L594.5,269.06 L595.5,269.04 L596.5,269.02 L597.5,269.00 L598.5,269.00 L599.5,269.00 L600.5,269.02 L601.5,269.04 L602.5,269.06 L603.5,269.10 L604.5,269.14 L605.5,269.19 L606.5,269.25 L607.5,269.32 L608.5,269.40 L609.5,269.48 L610.5,269.57 L611.5,269.67 L612.5,269.78 L613.5,269.89 L614.5,270.01 L615.5,270.14 L616.5,270.28 L617.5,270.43 L618.5,270.58 L619.5,270.74 L620.5,270.91 L621.5,271.09 L622.5,271.27 L623.5,271.46 L624.5,271.66 L625.5,271.87 L626.5,272.08 L627.5,272.30 L628.5,272.53 L629.5,272.76 L630.5,273.01 L631.5,273.26 L632.5,273.52 L633.5,273.78 L634.5,274.05 L635.5,274.33 L636.5,274.62 L637.5,274.91 L638.5,275.21 L639.5,275.51 L640.5,275.83 L641.5,276.15 L642.5,276.47 L643.5,276.81 L644.5,277.15 L645.5,277.49 L646.5,277.84 L647.5,278.20 L648.5,278.57 L649.5,278.94 L650.5,279.32 L651.5,279.70 L652.5,280.09 L653.5,280.49 L654.5,280.89 L655.5,281.29 L656.5,281.71 L657.5,282.13 L658.5,282.55 L659.5,282.98 L660.5,283.42 L661.5,283.86 L662.5,284.30 L663.5,284.75 L664.5,285.21 L665.5,285.67 L666.5,286.14 L667.5,286.61 L668.5,287.08 L669.5,287.56 L670.5,288.05 L671.5,288.54 L672.5,289.03 L673.5,289.53 L674.5,290.03 L675.5,290.54 L676.5,291.05 L677.5,291.56 L678.5,292.08 L679.5,292.61 L680.5,293.13 L681.5,293.66 L682.5,294.19 L683.5,294.73 L684.5,295.27 L685.5,295.81 L686.5,296.36 L687.5,296.91 L688.5,297.46 L689.5,298.02 L690.5,298.57 L691.5,299.13 L692.5,299.70 L693.5,300.26 L694.5,300.83 L695.5,301.40 L696.5,301.97 L697.5,302.55 L698.5,303.12 L699.5,303.70 L700.5,304.28 L701.5,304.86 L702.5,305.44 L703.5,306.03 L704.5,306.61 L705.5,307.20 L706.5,307.78 L707.5,308.37 L708.5,308.96 L709.5,309.55 L710.5,310.14 L711.5,310.73 L712.5,311.32 L713.5,311.92 L714.5,312.51 L715.5,313.10 L716.5,313.69 L717.5,314.28 L718.5,314.88 L719.5,315.47 L720.5,316.06 L721.5,316.65 L722.5,317.24 L723.5,317.83 L724.5,318.42 L725.5,319.00 L726.5,319.59 L727.5,320.17 L728.5,320.76 L729.5,321.34 L730.5,321.92 L731.5,322.50 L732.5,323.08 L733.5,323.65 L734.5,324.23 L735.5,324.80 L736.5,325.37 L737.5,325.94 L738.5,326.50 L739.5,327.07 L740.5,327.63 L741.5,328.18 L742.5,328.74 L743.5,329.29 L744.5,329.84 L745.5,330.39 L746.5,330.93 L747.5,331.47 L748.5,332.01 L749.5,332.54 L750.5,333.07 L751.5,333.59 L752.5,334.12 L753.5,334.64 L754.5,335.15 L755.5,335.66 L756.5,336.17 L757.5,336.67 L758.5,337.17 L759.5,337.66 L760.5,338.15 L761.5,338.64 L762.5,339.12 L763.5,339.59 L764.5,340.06 L765.5,340.53 L766.5,340.99 L767.5,341.45 L768.5,341.90 L769.5,342.34 L770.5,342.78 L771.5,343.22 L772.5,343.65 L773.5,344.07 L774.5,344.49 L775.5,344.91 L776.5,345.31 L777.5,345.71 L778.5,346.11 L779.5,346.50 L780.5,346.88 L781.5,347.26 L782.5,347.63 L783.5,348.00 L784.5,348.36 L785.5,348.71 L786.5,349.05 L787.5,349.39 L788.5,349.73 L789.5,350.05 L790.5,350.37 L791.5,350.69 L792.5,350.99 L793.5,351.29 L794.5,351.58 L795.5,351.87 L796.5,352.15 L797.5,352.42 L798.5,352.68 L799.5,352.94 L800.5,353.19 L801.5,353.44 L802.5,353.67 L803.5,353.90 L804.5,354.12 L805.5,354.33 L806.5,354.54 L807.5,354.74 L808.5,354.93 L809.5,355.11 L810.5,355.29 L811.5,355.46 L812.5,355.62 L813.5,355.77 L814.5,355.92 L815.5,356.06 L816.5,356.19 L817.5,356.31 L818.5,356.42 L819.5,356.53 L820.5,356.63 L821.5,356.72 L822.5,356.80 L823.5,356.88 L824.5,356.95 L825.5,357.01 L826.5,357.06 L827.5,357.10 L828.5,357.14 L829.5,357.16 L830.5,357.18 L831.5,357.20 L832.5,357.20 L833.5,357.20 L834.5,357.18 L835.5,357.16" fill="none" stroke="#c81832" stroke-width="2.7"/>
<rect x="333.6" y="212.2" width="504.0" height="198.40000000000003" fill="none" stroke="#000" stroke-width="2.5" stroke-linejoin="round"/>
<line x1="333.6" y1="436.70" x2="344" y2="436.70" stroke="#000" stroke-width="1.9"/>
<line x1="333.6" y1="454.20" x2="344" y2="454.20" stroke="#000" stroke-width="1.9"/>
<line x1="333.6" y1="472.20" x2="344" y2="472.20" stroke="#000" stroke-width="1.9"/>
<line x1="333.6" y1="490.60" x2="344" y2="490.60" stroke="#000" stroke-width="1.9"/>
<line x1="333.6" y1="510.30" x2="344" y2="510.30" stroke="#000" stroke-width="1.9"/>
<line x1="333.6" y1="527.60" x2="344" y2="527.60" stroke="#000" stroke-width="1.9"/>
<line x1="333.6" y1="544.10" x2="344" y2="544.10" stroke="#000" stroke-width="1.9"/>
<line x1="333.6" y1="561.10" x2="344" y2="561.10" stroke="#000" stroke-width="1.9"/>
<line x1="333.6" y1="580.00" x2="344" y2="580.00" stroke="#000" stroke-width="1.9"/>
<line x1="333.6" y1="598.70" x2="344" y2="598.70" stroke="#000" stroke-width="1.9"/>
<line x1="333.6" y1="615.50" x2="344" y2="615.50" stroke="#000" stroke-width="1.9"/>
<line x1="363.2" y1="625.5" x2="363.2" y2="615.70" stroke="#000" stroke-width="2.1"/>
<line x1="437.0" y1="625.5" x2="437.0" y2="615.70" stroke="#000" stroke-width="2.1"/>
<line x1="511.6" y1="625.5" x2="511.6" y2="615.70" stroke="#000" stroke-width="2.1"/>
<line x1="586.4" y1="625.5" x2="586.4" y2="615.70" stroke="#000" stroke-width="2.1"/>
<line x1="661.6" y1="625.5" x2="661.6" y2="615.70" stroke="#000" stroke-width="2.1"/>
<line x1="736.0" y1="625.5" x2="736.0" y2="615.70" stroke="#000" stroke-width="2.1"/>
<line x1="810.6" y1="625.5" x2="810.6" y2="615.70" stroke="#000" stroke-width="2.1"/>
<line x1="333.6" y1="526.7" x2="837.6" y2="526.7" stroke="#000" stroke-width="2.0"/>
<path d="M335.5,558.25 L336.5,557.12 L337.5,555.99 L338.5,554.86 L339.5,553.72 L340.5,552.58 L341.5,551.43 L342.5,550.27 L343.5,549.12 L344.5,547.95 L345.5,546.79 L346.5,545.62 L347.5,544.45 L348.5,543.27 L349.5,542.10 L350.5,540.91 L351.5,539.73 L352.5,538.55 L353.5,537.36 L354.5,536.17 L355.5,534.98 L356.5,533.78 L357.5,532.59 L358.5,531.40 L359.5,530.20 L360.5,529.00 L361.5,527.81 L362.5,526.61 L363.5,525.41 L364.5,524.22 L365.5,523.02 L366.5,521.83 L367.5,520.63 L368.5,519.44 L369.5,518.25 L370.5,517.06 L371.5,515.87 L372.5,514.68 L373.5,513.50 L374.5,512.31 L375.5,511.13 L376.5,509.96 L377.5,508.78 L378.5,507.61 L379.5,506.44 L380.5,505.28 L381.5,504.12 L382.5,502.96 L383.5,501.81 L384.5,500.67 L385.5,499.52 L386.5,498.39 L387.5,497.25 L388.5,496.13 L389.5,495.00 L390.5,493.89 L391.5,492.78 L392.5,491.67 L393.5,490.57 L394.5,489.48 L395.5,488.40 L396.5,487.32 L397.5,486.25 L398.5,485.18 L399.5,484.13 L400.5,483.08 L401.5,482.04 L402.5,481.00 L403.5,479.98 L404.5,478.96 L405.5,477.95 L406.5,476.95 L407.5,475.96 L408.5,474.98 L409.5,474.01 L410.5,473.05 L411.5,472.09 L412.5,471.15 L413.5,470.21 L414.5,469.29 L415.5,468.38 L416.5,467.47 L417.5,466.58 L418.5,465.70 L419.5,464.83 L420.5,463.97 L421.5,463.12 L422.5,462.28 L423.5,461.45 L424.5,460.64 L425.5,459.83 L426.5,459.04 L427.5,458.26 L428.5,457.50 L429.5,456.74 L430.5,456.00 L431.5,455.27 L432.5,454.55 L433.5,453.85 L434.5,453.16 L435.5,452.48 L436.5,451.81 L437.5,451.16 L438.5,450.52 L439.5,449.90 L440.5,449.29 L441.5,448.69 L442.5,448.11 L443.5,447.54 L444.5,446.98 L445.5,446.44 L446.5,445.91 L447.5,445.40 L448.5,444.90 L449.5,444.42 L450.5,443.95 L451.5,443.50 L452.5,443.06 L453.5,442.63 L454.5,442.22 L455.5,441.83 L456.5,441.45 L457.5,441.09 L458.5,440.74 L459.5,440.40 L460.5,440.08 L461.5,439.78 L462.5,439.49 L463.5,439.22 L464.5,438.96 L465.5,438.72 L466.5,438.50 L467.5,438.29 L468.5,438.09 L469.5,437.92 L470.5,437.75 L471.5,437.61 L472.5,437.48 L473.5,437.36 L474.5,437.26 L475.5,437.18 L476.5,437.11 L477.5,437.06 L478.5,437.02 L479.5,437.00 L480.5,437.00 L481.5,437.01 L482.5,437.04 L483.5,437.09 L484.5,437.15 L485.5,437.22 L486.5,437.31 L487.5,437.42 L488.5,437.55 L489.5,437.68 L490.5,437.84 L491.5,438.01 L492.5,438.20 L493.5,438.40 L494.5,438.62 L495.5,438.85 L496.5,439.10 L497.5,439.37 L498.5,439.65 L499.5,439.95 L500.5,440.26 L501.5,440.58 L502.5,440.93 L503.5,441.28 L504.5,441.66 L505.5,442.04 L506.5,442.45 L507.5,442.86 L508.5,443.30 L509.5,443.75 L510.5,444.21 L511.5,444.68 L512.5,445.18 L513.5,445.68 L514.5,446.20 L515.5,446.74 L516.5,447.29 L517.5,447.85 L518.5,448.43 L519.5,449.02 L520.5,449.62 L521.5,450.24 L522.5,450.87 L523.5,451.52 L524.5,452.18 L525.5,452.85 L526.5,453.54 L527.5,454.23 L528.5,454.95 L529.5,455.67 L530.5,456.41 L531.5,457.15 L532.5,457.92 L533.5,458.69 L534.5,459.48 L535.5,460.27 L536.5,461.08 L537.5,461.90 L538.5,462.74 L539.5,463.58 L540.5,464.44 L541.5,465.30 L542.5,466.18 L543.5,467.07 L544.5,467.97 L545.5,468.88 L546.5,469.80 L547.5,470.73 L548.5,471.67 L549.5,472.61 L550.5,473.57 L551.5,474.54 L552.5,475.52 L553.5,476.51 L554.5,477.50 L555.5,478.51 L556.5,479.52 L557.5,480.54 L558.5,481.57 L559.5,482.61 L560.5,483.65 L561.5,484.71 L562.5,485.77 L563.5,486.84 L564.5,487.91 L565.5,488.99 L566.5,490.08 L567.5,491.18 L568.5,492.28 L569.5,493.39 L570.5,494.50 L571.5,495.62 L572.5,496.75 L573.5,497.88 L574.5,499.01 L575.5,500.15 L576.5,501.30 L577.5,502.45 L578.5,503.60 L579.5,504.76 L580.5,505.92 L581.5,507.09 L582.5,508.25 L583.5,509.43 L584.5,510.60 L585.5,511.78 L586.5,512.96 L587.5,514.15 L588.5,515.33 L589.5,516.52 L590.5,517.71 L591.5,518.90 L592.5,520.09 L593.5,521.29 L594.5,522.48 L595.5,523.68 L596.5,524.88 L597.5,526.07 L598.5,527.27 L599.5,528.47 L600.5,529.66 L601.5,530.86 L602.5,532.05 L603.5,533.25 L604.5,534.44 L605.5,535.63 L606.5,536.82 L607.5,538.01 L608.5,539.20 L609.5,540.38 L610.5,541.56 L611.5,542.74 L612.5,543.92 L613.5,545.09 L614.5,546.26 L615.5,547.43 L616.5,548.59 L617.5,549.75 L618.5,550.91 L619.5,552.06 L620.5,553.21 L621.5,554.35 L622.5,555.48 L623.5,556.62 L624.5,557.74 L625.5,558.86 L626.5,559.98 L627.5,561.09 L628.5,562.19 L629.5,563.29 L630.5,564.38 L631.5,565.46 L632.5,566.54 L633.5,567.61 L634.5,568.67 L635.5,569.73 L636.5,570.78 L637.5,571.82 L638.5,572.85 L639.5,573.87 L640.5,574.89 L641.5,575.90 L642.5,576.90 L643.5,577.88 L644.5,578.87 L645.5,579.84 L646.5,580.80 L647.5,581.75 L648.5,582.69 L649.5,583.63 L650.5,584.55 L651.5,585.46 L652.5,586.36 L653.5,587.25 L654.5,588.13 L655.5,589.00 L656.5,589.86 L657.5,590.71 L658.5,591.55 L659.5,592.37 L660.5,593.18 L661.5,593.99 L662.5,594.78 L663.5,595.55 L664.5,596.32 L665.5,597.07 L666.5,597.81 L667.5,598.54 L668.5,599.25 L669.5,599.96 L670.5,600.65 L671.5,601.32 L672.5,601.98 L673.5,602.63 L674.5,603.27 L675.5,603.89 L676.5,604.50 L677.5,605.10 L678.5,605.68 L679.5,606.25 L680.5,606.80 L681.5,607.34 L682.5,607.86 L683.5,608.37 L684.5,608.87 L685.5,609.35 L686.5,609.82 L687.5,610.27 L688.5,610.71 L689.5,611.13 L690.5,611.54 L691.5,611.93 L692.5,612.31 L693.5,612.67 L694.5,613.02 L695.5,613.35 L696.5,613.66 L697.5,613.96 L698.5,614.25 L699.5,614.52 L700.5,614.77 L701.5,615.01 L702.5,615.24 L703.5,615.44 L704.5,615.63 L705.5,615.81 L706.5,615.97 L707.5,616.11 L708.5,616.24 L709.5,616.36 L710.5,616.45 L711.5,616.53 L712.5,616.60 L713.5,616.65 L714.5,616.68 L715.5,616.70 L716.5,616.70 L717.5,616.68 L718.5,616.65 L719.5,616.61 L720.5,616.54 L721.5,616.47 L722.5,616.37 L723.5,616.26 L724.5,616.13 L725.5,615.99 L726.5,615.84 L727.5,615.66 L728.5,615.47 L729.5,615.27 L730.5,615.05 L731.5,614.81 L732.5,614.56 L733.5,614.29 L734.5,614.01 L735.5,613.71 L736.5,613.40 L737.5,613.07 L738.5,612.72 L739.5,612.36 L740.5,611.99 L741.5,611.60 L742.5,611.19 L743.5,610.77 L744.5,610.34 L745.5,609.89 L746.5,609.42 L747.5,608.94 L748.5,608.45 L749.5,607.94 L750.5,607.42 L751.5,606.88 L752.5,606.33 L753.5,605.76 L754.5,605.19 L755.5,604.59 L756.5,603.99 L757.5,603.36 L758.5,602.73 L759.5,602.08 L760.5,601.42 L761.5,600.75 L762.5,600.06 L763.5,599.36 L764.5,598.65 L765.5,597.92 L766.5,597.18 L767.5,596.43 L768.5,595.67 L769.5,594.89 L770.5,594.11 L771.5,593.31 L772.5,592.49 L773.5,591.67 L774.5,590.84 L775.5,589.99 L776.5,589.13 L777.5,588.27 L778.5,587.39 L779.5,586.50 L780.5,585.60 L781.5,584.69 L782.5,583.76 L783.5,582.83 L784.5,581.89 L785.5,580.94 L786.5,579.98 L787.5,579.01 L788.5,578.03 L789.5,577.04 L790.5,576.05 L791.5,575.04 L792.5,574.03 L793.5,573.00 L794.5,571.97 L795.5,570.93 L796.5,569.89 L797.5,568.83 L798.5,567.77 L799.5,566.70 L800.5,565.63 L801.5,564.54 L802.5,563.45 L803.5,562.36 L804.5,561.25 L805.5,560.15 L806.5,559.03 L807.5,557.91 L808.5,556.79 L809.5,555.65 L810.5,554.52 L811.5,553.38 L812.5,552.23 L813.5,551.08 L814.5,549.93 L815.5,548.77 L816.5,547.61 L817.5,546.44 L818.5,545.27 L819.5,544.10 L820.5,542.92 L821.5,541.74 L822.5,540.56 L823.5,539.38 L824.5,538.19 L825.5,537.00 L826.5,535.81 L827.5,534.62 L828.5,533.43 L829.5,532.23 L830.5,531.04 L831.5,529.84 L832.5,528.65 L833.5,527.45 L834.5,526.25 L835.5,525.05" fill="none" stroke="#6681d2" stroke-width="2.7"/>
<path d="M335.5,484.50 L336.5,484.30 L337.5,484.10 L338.5,483.92 L339.5,483.73 L340.5,483.56 L341.5,483.40 L342.5,483.24 L343.5,483.09 L344.5,482.94 L345.5,482.81 L346.5,482.68 L347.5,482.56 L348.5,482.45 L349.5,482.34 L350.5,482.25 L351.5,482.16 L352.5,482.08 L353.5,482.01 L354.5,481.94 L355.5,481.88 L356.5,481.83 L357.5,481.79 L358.5,481.76 L359.5,481.73 L360.5,481.71 L361.5,481.70 L362.5,481.70 L363.5,481.71 L364.5,481.72 L365.5,481.74 L366.5,481.77 L367.5,481.81 L368.5,481.85 L369.5,481.90 L370.5,481.96 L371.5,482.03 L372.5,482.11 L373.5,482.19 L374.5,482.29 L375.5,482.39 L376.5,482.49 L377.5,482.61 L378.5,482.73 L379.5,482.86 L380.5,483.00 L381.5,483.15 L382.5,483.30 L383.5,483.46 L384.5,483.63 L385.5,483.81 L386.5,483.99 L387.5,484.18 L388.5,484.38 L389.5,484.59 L390.5,484.80 L391.5,485.02 L392.5,485.25 L393.5,485.48 L394.5,485.73 L395.5,485.98 L396.5,486.23 L397.5,486.50 L398.5,486.77 L399.5,487.05 L400.5,487.33 L401.5,487.62 L402.5,487.92 L403.5,488.23 L404.5,488.54 L405.5,488.86 L406.5,489.18 L407.5,489.52 L408.5,489.85 L409.5,490.20 L410.5,490.55 L411.5,490.91 L412.5,491.27 L413.5,491.64 L414.5,492.02 L415.5,492.40 L416.5,492.79 L417.5,493.18 L418.5,493.58 L419.5,493.99 L420.5,494.40 L421.5,494.82 L422.5,495.24 L423.5,495.67 L424.5,496.10 L425.5,496.54 L426.5,496.99 L427.5,497.44 L428.5,497.89 L429.5,498.35 L430.5,498.81 L431.5,499.28 L432.5,499.76 L433.5,500.24 L434.5,500.72 L435.5,501.21 L436.5,501.70 L437.5,502.20 L438.5,502.70 L439.5,503.20 L440.5,503.71 L441.5,504.22 L442.5,504.74 L443.5,505.26 L444.5,505.79 L445.5,506.32 L446.5,506.85 L447.5,507.38 L448.5,507.92 L449.5,508.46 L450.5,509.01 L451.5,509.55 L452.5,510.10 L453.5,510.66 L454.5,511.21 L455.5,511.77 L456.5,512.34 L457.5,512.90 L458.5,513.47 L459.5,514.03 L460.5,514.60 L461.5,515.18 L462.5,515.75 L463.5,516.33 L464.5,516.91 L465.5,517.49 L466.5,518.07 L467.5,518.65 L468.5,519.24 L469.5,519.82 L470.5,520.41 L471.5,521.00 L472.5,521.58 L473.5,522.17 L474.5,522.76 L475.5,523.35 L476.5,523.95 L477.5,524.54 L478.5,525.13 L479.5,525.72 L480.5,526.31 L481.5,526.90 L482.5,527.50 L483.5,528.09 L484.5,528.68 L485.5,529.27 L486.5,529.86 L487.5,530.45 L488.5,531.04 L489.5,531.63 L490.5,532.21 L491.5,532.80 L492.5,533.39 L493.5,533.97 L494.5,534.55 L495.5,535.13 L496.5,535.71 L497.5,536.29 L498.5,536.86 L499.5,537.44 L500.5,538.01 L501.5,538.58 L502.5,539.15 L503.5,539.71 L504.5,540.27 L505.5,540.83 L506.5,541.39 L507.5,541.95 L508.5,542.50 L509.5,543.05 L510.5,543.59 L511.5,544.14 L512.5,544.68 L513.5,545.21 L514.5,545.75 L515.5,546.28 L516.5,546.80 L517.5,547.32 L518.5,547.84 L519.5,548.36 L520.5,548.87 L521.5,549.38 L522.5,549.88 L523.5,550.38 L524.5,550.87 L525.5,551.36 L526.5,551.85 L527.5,552.33 L528.5,552.80 L529.5,553.27 L530.5,553.74 L531.5,554.20 L532.5,554.66 L533.5,555.11 L534.5,555.56 L535.5,556.00 L536.5,556.44 L537.5,556.87 L538.5,557.29 L539.5,557.71 L540.5,558.13 L541.5,558.53 L542.5,558.94 L543.5,559.33 L544.5,559.72 L545.5,560.11 L546.5,560.49 L547.5,560.86 L548.5,561.23 L549.5,561.59 L550.5,561.94 L551.5,562.29 L552.5,562.63 L553.5,562.97 L554.5,563.30 L555.5,563.62 L556.5,563.93 L557.5,564.24 L558.5,564.54 L559.5,564.84 L560.5,565.13 L561.5,565.41 L562.5,565.68 L563.5,565.95 L564.5,566.21 L565.5,566.46 L566.5,566.71 L567.5,566.95 L568.5,567.18 L569.5,567.40 L570.5,567.62 L571.5,567.83 L572.5,568.03 L573.5,568.23 L574.5,568.41 L575.5,568.59 L576.5,568.76 L577.5,568.93 L578.5,569.09 L579.5,569.24 L580.5,569.38 L581.5,569.51 L582.5,569.64 L583.5,569.76 L584.5,569.87 L585.5,569.97 L586.5,570.07 L587.5,570.15 L588.5,570.23 L589.5,570.31 L590.5,570.37 L591.5,570.43 L592.5,570.47 L593.5,570.51 L594.5,570.55 L595.5,570.57 L596.5,570.59 L597.5,570.60 L598.5,570.60 L599.5,570.59 L600.5,570.58 L601.5,570.56 L602.5,570.53 L603.5,570.49 L604.5,570.44 L605.5,570.39 L606.5,570.33 L607.5,570.26 L608.5,570.18 L609.5,570.09 L610.5,570.00 L611.5,569.90 L612.5,569.79 L613.5,569.67 L614.5,569.55 L615.5,569.42 L616.5,569.28 L617.5,569.13 L618.5,568.98 L619.5,568.81 L620.5,568.64 L621.5,568.47 L622.5,568.28 L623.5,568.09 L624.5,567.89 L625.5,567.68 L626.5,567.47 L627.5,567.25 L628.5,567.02 L629.5,566.78 L630.5,566.54 L631.5,566.29 L632.5,566.03 L633.5,565.76 L634.5,565.49 L635.5,565.21 L636.5,564.93 L637.5,564.63 L638.5,564.33 L639.5,564.03 L640.5,563.71 L641.5,563.39 L642.5,563.07 L643.5,562.73 L644.5,562.39 L645.5,562.05 L646.5,561.70 L647.5,561.34 L648.5,560.97 L649.5,560.60 L650.5,560.22 L651.5,559.84 L652.5,559.45 L653.5,559.06 L654.5,558.66 L655.5,558.25 L656.5,557.84 L657.5,557.42 L658.5,556.99 L659.5,556.57 L660.5,556.13 L661.5,555.69 L662.5,555.25 L663.5,554.80 L664.5,554.34 L665.5,553.88 L666.5,553.42 L667.5,552.95 L668.5,552.47 L669.5,551.99 L670.5,551.51 L671.5,551.02 L672.5,550.53 L673.5,550.03 L674.5,549.53 L675.5,549.02 L676.5,548.51 L677.5,548.00 L678.5,547.48 L679.5,546.96 L680.5,546.43 L681.5,545.91 L682.5,545.37 L683.5,544.84 L684.5,544.30 L685.5,543.76 L686.5,543.21 L687.5,542.66 L688.5,542.11 L689.5,541.56 L690.5,541.00 L691.5,540.44 L692.5,539.88 L693.5,539.32 L694.5,538.75 L695.5,538.18 L696.5,537.61 L697.5,537.04 L698.5,536.46 L699.5,535.88 L700.5,535.31 L701.5,534.73 L702.5,534.14 L703.5,533.56 L704.5,532.98 L705.5,532.39 L706.5,531.80 L707.5,531.22 L708.5,530.63 L709.5,530.04 L710.5,529.45 L711.5,528.86 L712.5,528.27 L713.5,527.67 L714.5,527.08 L715.5,526.49 L716.5,525.90 L717.5,525.31 L718.5,524.71 L719.5,524.12 L720.5,523.53 L721.5,522.94 L722.5,522.35 L723.5,521.76 L724.5,521.17 L725.5,520.58 L726.5,520.00 L727.5,519.41 L728.5,518.83 L729.5,518.24 L730.5,517.66 L731.5,517.08 L732.5,516.50 L733.5,515.93 L734.5,515.35 L735.5,514.78 L736.5,514.21 L737.5,513.64 L738.5,513.07 L739.5,512.50 L740.5,511.94 L741.5,511.38 L742.5,510.83 L743.5,510.27 L744.5,509.72 L745.5,509.17 L746.5,508.62 L747.5,508.08 L748.5,507.54 L749.5,507.01 L750.5,506.47 L751.5,505.95 L752.5,505.42 L753.5,504.90 L754.5,504.38 L755.5,503.87 L756.5,503.35 L757.5,502.85 L758.5,502.35 L759.5,501.85 L760.5,501.35 L761.5,500.87 L762.5,500.38 L763.5,499.90 L764.5,499.43 L765.5,498.95 L766.5,498.49 L767.5,498.03 L768.5,497.57 L769.5,497.12 L770.5,496.68 L771.5,496.23 L772.5,495.80 L773.5,495.37 L774.5,494.94 L775.5,494.53 L776.5,494.11 L777.5,493.71 L778.5,493.30 L779.5,492.91 L780.5,492.52 L781.5,492.13 L782.5,491.76 L783.5,491.38 L784.5,491.02 L785.5,490.66 L786.5,490.30 L787.5,489.96 L788.5,489.62 L789.5,489.28 L790.5,488.96 L791.5,488.63 L792.5,488.32 L793.5,488.01 L794.5,487.71 L795.5,487.42 L796.5,487.13 L797.5,486.85 L798.5,486.58 L799.5,486.31 L800.5,486.05 L801.5,485.80 L802.5,485.56 L803.5,485.32 L804.5,485.09 L805.5,484.86 L806.5,484.65 L807.5,484.44 L808.5,484.24 L809.5,484.05 L810.5,483.86 L811.5,483.68 L812.5,483.51 L813.5,483.35 L814.5,483.19 L815.5,483.04 L816.5,482.90 L817.5,482.77 L818.5,482.64 L819.5,482.53 L820.5,482.42 L821.5,482.31 L822.5,482.22 L823.5,482.13 L824.5,482.06 L825.5,481.98 L826.5,481.92 L827.5,481.87 L828.5,481.82 L829.5,481.78 L830.5,481.75 L831.5,481.72 L832.5,481.71 L833.5,481.70 L834.5,481.70 L835.5,481.71" fill="none" stroke="#c81832" stroke-width="2.7"/>
<rect x="333.6" y="427.4" width="504.0" height="198.10000000000002" fill="none" stroke="#000" stroke-width="2.5" stroke-linejoin="round"/>
<line x1="476.0" y1="20" x2="476.0" y2="102" stroke="#000" stroke-width="1.7"/>
<path d="M476.00,17.20 L469.40,32.70 L476.00,29.20 L482.60,32.70 Z" fill="#000"/>
<path d="M476.00,62.60 L469.40,78.10 L476.00,74.60 L482.60,78.10 Z" fill="#000"/>
<path d="M476.00,104.60 L469.40,89.10 L476.00,92.60 L482.60,89.10 Z" fill="#000"/>
<line x1="412.8" y1="29.4" x2="474" y2="38.3" stroke="#000" stroke-width="1.6"/>
<line x1="428.5" y1="115.9" x2="474.5" y2="82.5" stroke="#000" stroke-width="1.6"/>
<line x1="479.5" y1="230" x2="479.5" y2="305" stroke="#000" stroke-width="2.5"/>
<path d="M479.50,224.30 L470.50,246.30 L479.50,240.80 L488.50,246.30 Z" fill="#000"/>
<path d="M479.50,312.40 L470.30,290.10 L479.50,295.40 L488.70,290.10 Z" fill="#000"/>
<path d="M601.8,268.6 L593.0999999999999,290.1 L601.8,285.20000000000005 L610.5,290.1 Z" fill="#000"/>
<path d="M601.8,312.4 L593.0999999999999,290.1 L601.8,295.0 L610.5,290.1 Z" fill="#000"/>
<path d="M593.0999999999999,290.1 L601.8,285.20000000000005 L610.5,290.1 L610.5,290.1 L601.8,295.0 L593.0999999999999,290.1 Z" fill="#fff" stroke="#000" stroke-width="1.4" stroke-linejoin="round"/>
<line x1="601.8" y1="272.6" x2="601.8" y2="308.4" stroke="#000" stroke-width="2.2"/>
<line x1="576.2" y1="263.5" x2="595.2" y2="285.8" stroke="#000" stroke-width="1.6"/>
<line x1="481.1" y1="443" x2="481.1" y2="520" stroke="#000" stroke-width="2.5"/>
<path d="M481.10,437.00 L472.10,459.00 L481.10,453.50 L490.10,459.00 Z" fill="#000"/>
<path d="M481.10,526.90 L471.90,504.60 L481.10,509.90 L490.30,504.60 Z" fill="#000"/>
<path d="M360.5,482.1 L351.8,503.2 L360.5,500.59999999999997 L369.2,503.2 Z" fill="#000"/>
<path d="M360.5,527.8 L351.8,506.9 L360.5,509.5 L369.2,506.9 Z" fill="#000"/>
<path d="M351.8,503.2 L360.5,500.59999999999997 L369.2,503.2 L369.2,506.9 L360.5,509.5 L351.8,506.9 Z" fill="#fff" stroke="#000" stroke-width="1.4" stroke-linejoin="round"/>
<line x1="360.5" y1="486.1" x2="360.5" y2="523.8" stroke="#000" stroke-width="2.2"/>
<line x1="362.7" y1="505.9" x2="383.2" y2="535.9" stroke="#000" stroke-width="1.5"/>
<line x1="735.0" y1="58.4" x2="811.0" y2="58.4" stroke="#333" stroke-width="1.9"/>
<line x1="676.1" y1="262.8" x2="752.0" y2="262.8" stroke="#333" stroke-width="1.9"/>
<line x1="622.6" y1="473.8" x2="698.0" y2="473.8" stroke="#333" stroke-width="1.9"/>
<line x1="360.3" y1="19.3" x2="383.6" y2="19.3" stroke="#000" stroke-width="1.9"/>
<line x1="423.3" y1="120.6" x2="444.9" y2="120.6" stroke="#000" stroke-width="1.9"/>
<line x1="417.9" y1="264.5" x2="439.2" y2="264.5" stroke="#000" stroke-width="1.9"/>
<line x1="578.8" y1="227.5" x2="600.1" y2="227.5" stroke="#000" stroke-width="1.9"/>
<line x1="506.3" y1="471.8" x2="529.2" y2="471.8" stroke="#000" stroke-width="1.9"/>
<line x1="389.5" y1="533.6" x2="410.4" y2="533.6" stroke="#000" stroke-width="1.9"/>
<text x="118.00" y="86.75" font-family="Liberation Serif, Times New Roman, serif" font-size="40" textLength="47.91" lengthAdjust="spacingAndGlyphs"><tspan font-style="italic">i</tspan>(<tspan font-style="italic">t</tspan>)</text>
<text x="85.30" y="123.00" font-family="Liberation Serif, Times New Roman, serif" font-size="40" textLength="56.68" lengthAdjust="spacingAndGlyphs"><tspan font-style="italic">u</tspan>(<tspan font-style="italic">t</tspan>)</text>
<text x="194.50" y="124.35" font-family="Liberation Serif, Times New Roman, serif" font-size="40"><tspan font-style="italic">R</tspan></text>
<text x="267.80" y="78.90" font-family="Liberation Serif, Times New Roman, serif" font-size="40"><tspan font-style="italic">u</tspan>(<tspan font-style="italic">t</tspan>)</text>
<text x="276.10" y="111.95" font-family="Liberation Serif, Times New Roman, serif" font-size="40" textLength="32.53" lengthAdjust="spacingAndGlyphs">or</text>
<text x="269.10" y="147.90" font-family="Liberation Serif, Times New Roman, serif" font-size="40"><tspan font-style="italic">i</tspan>(<tspan font-style="italic">t</tspan>)</text>
<text transform="translate(334.77,50.13) scale(1.0789,1.0202) skewX(2.52)" font-family="DejaVu Math TeX Gyre, Liberation Serif, serif" font-size="40">√</text>
<text x="362.80" y="49.40" font-family="Liberation Serif, Times New Roman, serif" font-size="40">2<tspan font-style="italic">U</tspan></text>
<text transform="translate(397.82,151.16) scale(1.0875,1.0115) skewX(2.95)" font-family="DejaVu Math TeX Gyre, Liberation Serif, serif" font-size="40">√</text>
<text x="424.60" y="151.75" font-family="Liberation Serif, Times New Roman, serif" font-size="40" textLength="32.43" lengthAdjust="spacingAndGlyphs">2<tspan font-style="italic">I</tspan></text>
<text x="657.40" y="71.90" font-family="Liberation Serif, Times New Roman, serif" font-size="40"><tspan font-style="italic">i</tspan>(<tspan font-style="italic">t</tspan>)</text>
<text transform="translate(706.47,69.39) scale(1.0632,0.7100)" font-family="Liberation Serif, Times New Roman, serif" font-size="40" fill="#787878">=</text>
<text x="749.70" y="44.45" font-family="Liberation Serif, Times New Roman, serif" font-size="40" textLength="56.58" lengthAdjust="spacingAndGlyphs"><tspan font-style="italic">u</tspan>(<tspan font-style="italic">t</tspan>)</text>
<text x="763.00" y="96.30" font-family="Liberation Serif, Times New Roman, serif" font-size="40" textLength="23.44" lengthAdjust="spacingAndGlyphs"><tspan font-style="italic">R</tspan></text>
<text x="851.40" y="106.90" font-family="Liberation Serif, Noto Serif CJK SC, serif" font-size="38" font-weight="500">阻性负载</text>
<text x="850.20" y="153.80" font-family="Liberation Serif, Noto Serif CJK SC, serif" font-size="40" textLength="116.73" lengthAdjust="spacingAndGlyphs">cos<tspan font-style="italic">φ</tspan>=1</text>
<text x="118.20" y="298.20" font-family="Liberation Serif, Times New Roman, serif" font-size="40"><tspan font-style="italic">i</tspan>(<tspan font-style="italic">t</tspan>)</text>
<text x="85.10" y="332.85" font-family="Liberation Serif, Times New Roman, serif" font-size="40"><tspan font-style="italic">u</tspan>(<tspan font-style="italic">t</tspan>)</text>
<text x="202.40" y="333.05" font-family="Liberation Serif, Times New Roman, serif" font-size="40"><tspan font-style="italic">L</tspan></text>
<text x="267.80" y="297.40" font-family="Liberation Serif, Times New Roman, serif" font-size="40"><tspan font-style="italic">u</tspan>(<tspan font-style="italic">t</tspan>)</text>
<text x="276.10" y="329.95" font-family="Liberation Serif, Times New Roman, serif" font-size="40" textLength="32.53" lengthAdjust="spacingAndGlyphs">or</text>
<text x="269.10" y="365.00" font-family="Liberation Serif, Times New Roman, serif" font-size="40"><tspan font-style="italic">i</tspan>(<tspan font-style="italic">t</tspan>)</text>
<text transform="translate(392.67,294.53) scale(1.0828,0.9914) skewX(3.18)" font-family="DejaVu Math TeX Gyre, Liberation Serif, serif" font-size="40">√</text>
<text x="420.90" y="295.15" font-family="Liberation Serif, Times New Roman, serif" font-size="40">2<tspan font-style="italic">U</tspan></text>
<text transform="translate(553.47,257.80) scale(1.0894,1.0000) skewX(3.28)" font-family="DejaVu Math TeX Gyre, Liberation Serif, serif" font-size="40">√</text>
<text x="580.30" y="259.95" font-family="Liberation Serif, Times New Roman, serif" font-size="40" textLength="32.33" lengthAdjust="spacingAndGlyphs">2<tspan font-style="italic">I</tspan></text>
<text x="653.90" y="274.10" font-family="Liberation Serif, Times New Roman, serif" font-size="40"><tspan font-style="italic">L</tspan></text>
<text x="683.40" y="249.15" font-family="Liberation Serif, Times New Roman, serif" font-size="40" textLength="66.81" lengthAdjust="spacingAndGlyphs">d<tspan font-style="italic">i</tspan>(<tspan font-style="italic">t</tspan>)</text>
<text x="703.20" y="302.30" font-family="Liberation Serif, Times New Roman, serif" font-size="40" textLength="29.02" lengthAdjust="spacingAndGlyphs">d<tspan font-style="italic">t</tspan></text>
<text transform="translate(754.84,272.31) scale(1.0316,0.6900)" font-family="Liberation Serif, Times New Roman, serif" font-size="40" fill="#787878">=</text>
<text x="777.80" y="275.00" font-family="Liberation Serif, Times New Roman, serif" font-size="40" textLength="56.58" lengthAdjust="spacingAndGlyphs"><tspan font-style="italic">u</tspan>(<tspan font-style="italic">t</tspan>)</text>
<text x="858.00" y="295.10" font-family="Liberation Serif, Noto Serif CJK SC, serif" font-size="38" font-weight="500" textLength="153.02" lengthAdjust="spacingAndGlyphs">感性负载</text>
<text x="857.60" y="342.50" font-family="Liberation Serif, Times New Roman, serif" font-size="40" textLength="19.20" lengthAdjust="spacingAndGlyphs">0</text>
<text transform="translate(877.52,340.20) scale(0.9567,0.7733)" font-family="Noto Serif CJK SC, serif" font-size="40">＜</text>
<text x="915.50" y="342.50" font-family="Liberation Serif, Times New Roman, serif" font-size="40" textLength="76.57" lengthAdjust="spacingAndGlyphs">cos<tspan font-style="italic">φ</tspan></text>
<text transform="translate(994.50,340.40) scale(0.9600,0.7833)" font-family="Noto Serif CJK SC, serif" font-size="40">＜</text>
<text x="1033.50" y="342.50" font-family="Liberation Serif, Times New Roman, serif" font-size="40" textLength="15.60" lengthAdjust="spacingAndGlyphs">1</text>
<text x="118.20" y="502.80" font-family="Liberation Serif, Times New Roman, serif" font-size="40"><tspan font-style="italic">i</tspan>(<tspan font-style="italic">t</tspan>)</text>
<text x="85.10" y="541.40" font-family="Liberation Serif, Times New Roman, serif" font-size="40"><tspan font-style="italic">u</tspan>(<tspan font-style="italic">t</tspan>)</text>
<text x="186.80" y="534.40" font-family="Liberation Serif, Times New Roman, serif" font-size="40"><tspan font-style="italic">C</tspan></text>
<text x="267.80" y="499.90" font-family="Liberation Serif, Times New Roman, serif" font-size="40"><tspan font-style="italic">u</tspan>(<tspan font-style="italic">t</tspan>)</text>
<text x="276.10" y="533.75" font-family="Liberation Serif, Times New Roman, serif" font-size="40" textLength="32.53" lengthAdjust="spacingAndGlyphs">or</text>
<text x="269.10" y="570.70" font-family="Liberation Serif, Times New Roman, serif" font-size="40"><tspan font-style="italic">i</tspan>(<tspan font-style="italic">t</tspan>)</text>
<text transform="translate(481.35,502.59) scale(1.0585,1.0029) skewX(2.67)" font-family="DejaVu Math TeX Gyre, Liberation Serif, serif" font-size="40">√</text>
<text x="508.60" y="502.75" font-family="Liberation Serif, Times New Roman, serif" font-size="40" textLength="49.79" lengthAdjust="spacingAndGlyphs">2<tspan font-style="italic">U</tspan></text>
<text transform="translate(364.39,563.80) scale(1.0804,1.0000) skewX(3.30)" font-family="DejaVu Math TeX Gyre, Liberation Serif, serif" font-size="40">√</text>
<text x="391.00" y="564.90" font-family="Liberation Serif, Times New Roman, serif" font-size="40" textLength="31.63" lengthAdjust="spacingAndGlyphs">2<tspan font-style="italic">I</tspan></text>
<text x="596.10" y="486.30" font-family="Liberation Serif, Times New Roman, serif" font-size="40" textLength="24.19" lengthAdjust="spacingAndGlyphs"><tspan font-style="italic">C</tspan></text>
<text x="625.30" y="460.30" font-family="Liberation Serif, Times New Roman, serif" font-size="40" textLength="74.38" lengthAdjust="spacingAndGlyphs">d<tspan font-style="italic">u</tspan>(<tspan font-style="italic">t</tspan>)</text>
<text x="644.40" y="513.50" font-family="Liberation Serif, Times New Roman, serif" font-size="40" textLength="29.62" lengthAdjust="spacingAndGlyphs">d<tspan font-style="italic">t</tspan></text>
<text transform="translate(699.84,483.32) scale(1.0316,0.6800)" font-family="Liberation Serif, Times New Roman, serif" font-size="40" fill="#787878">=</text>
<text x="724.20" y="486.15" font-family="Liberation Serif, Times New Roman, serif" font-size="40" textLength="46.41" lengthAdjust="spacingAndGlyphs"><tspan font-style="italic">i</tspan>(<tspan font-style="italic">t</tspan>)</text>
<text x="855.80" y="490.10" font-family="Liberation Serif, Noto Serif CJK SC, serif" font-size="38" font-weight="500" textLength="153.02" lengthAdjust="spacingAndGlyphs">容性负载</text>
<text transform="translate(855.08,539.30) scale(1.0105,0.9500)" font-family="Liberation Serif, Times New Roman, serif" font-size="40">−</text>
<text x="878.60" y="536.80" font-family="Liberation Serif, Times New Roman, serif" font-size="40" textLength="15.40" lengthAdjust="spacingAndGlyphs">1</text>
<text transform="translate(896.25,535.00) scale(0.9700,0.7800)" font-family="Noto Serif CJK SC, serif" font-size="40">＜</text>
<text x="934.70" y="536.80" font-family="Liberation Serif, Times New Roman, serif" font-size="40" textLength="76.77" lengthAdjust="spacingAndGlyphs">cos<tspan font-style="italic">φ</tspan></text>
<text transform="translate(1013.28,535.00) scale(0.9633,0.7800)" font-family="Noto Serif CJK SC, serif" font-size="40">＜</text>
<text x="1050.80" y="536.80" font-family="Liberation Serif, Times New Roman, serif" font-size="40">0</text>
</svg></body></html>
